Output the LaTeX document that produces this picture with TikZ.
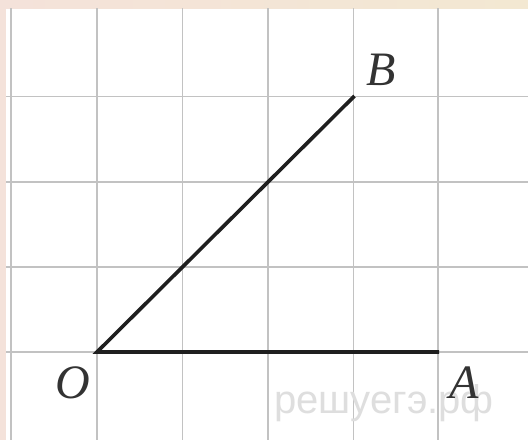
\documentclass[tikz,border=0pt]{standalone}
\usepackage{fontspec}
\setmainfont{Liberation Serif}
\newfontfamily\wmfont{Liberation Sans}
\definecolor{bandbeige}{HTML}{F3E8D2}
\definecolor{bandpink}{HTML}{F4E2DA}
\begin{document}
\begin{tikzpicture}[x=1pt,y=-1pt,
  gridline/.style={draw=black!24,line width=1.6pt},
  ray/.style={draw=black!88,line width=3.6pt},
  lbl/.style={inner sep=0pt,font=\fontsize{48}{48}\selectfont\itshape,text=black!80},
  wm/.style={inner sep=0pt,font=\wmfont\fontsize{40}{40}\selectfont,text=black!13}]
\useasboundingbox (0,0) rectangle (528,440);
\fill[white] (0,0) rectangle (528,440);
\fill[left color=bandpink, right color=bandbeige] (0,0) rectangle (528,8);
\fill[bandpink] (0,0) rectangle (6,440);
\foreach \x in {11,97,182.5,268,353.5,438}
  \draw[gridline] (\x,8) -- (\x,440);
\foreach \y in {96.5,182,267,352}
  \draw[gridline] (6,\y) -- (528,\y);
\node[wm] (wm) at (384,403) {решуегэ.рф};
\coordinate (O) at (97,352);
\coordinate (A) at (439,352);
\coordinate (B) at (354.5,96);
\draw[ray] (A) -- (O) -- (B);
\node[lbl] (lO) at (73,383) {O};
\node[lbl] (lA) at (464,383) {A};
\node[lbl] (lB) at (381,70) {B};
\end{tikzpicture}
\end{document}
